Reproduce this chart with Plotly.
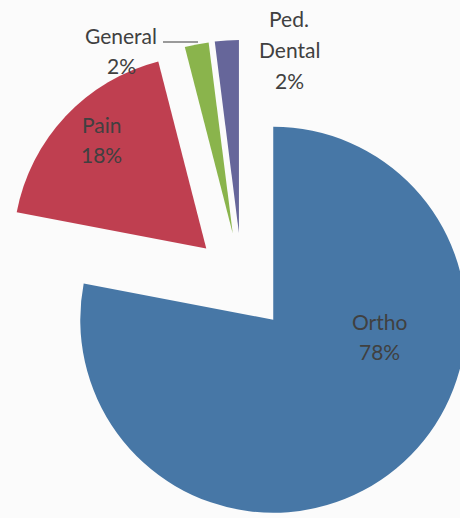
import plotly.graph_objects as go

# Appointment types and their share of visits
categories = ["Ortho", "Pain", "General", "Ped. Dental"]
values = [78, 18, 2, 2]
label_lines = [["Ortho"], ["Pain"], ["General"], ["Ped.", "Dental"]]

colors = ["#4777a6", "#bf3f50", "#8ab44c", "#66669a"]
text_color = "#404040"
bg = "#fbfbfb"

# Canvas is a bit larger than the window so the pie runs off the right/bottom edge
W, H = 484, 524
explode = 0.254          # every slice pulled out by the same amount
box_top = 40             # pixel top of the pie box
line_gap = 30.5          # pixel spacing between label lines


def px(x, y):
    """pixel position -> paper fractions"""
    return x / W, 1 - y / H


total = sum(values)
pct = [f"{round(v * 100 / total)}%" for v in values]

fig = go.Figure(
    go.Pie(
        labels=categories,
        values=values,
        sort=False,
        direction="clockwise",
        rotation=0,
        pull=[explode] * len(values),
        marker=dict(colors=colors, line=dict(width=0)),
        textinfo="none",
        hoverinfo="label+percent",
        showlegend=False,
        domain=dict(x=[0, 1], y=[0, 1 - box_top / H]),
    )
)

# Data labels (name + percentage); centre of the first line for each
label_pos = {
    "Ortho": (379, 321),
    "Pain": (101, 124),
    "General": (121, 35),
    "Ped. Dental": (289, 19),
}
for cat, lines, p in zip(categories, label_lines, pct):
    cx, cy = label_pos[cat]
    for i, t in enumerate(lines + [p]):
        x, y = px(cx, cy + i * line_gap)
        fig.add_annotation(
            x=x, y=y, xref="paper", yref="paper",
            text=t, showarrow=False,
            xanchor="center", yanchor="middle",
            font=dict(family="Lato", size=21, color=text_color),
        )

# Leader line from the "General" label to its slice
x0, y0 = px(163, 42)
x1, y1 = px(198, 42)
fig.add_shape(type="line", xref="paper", yref="paper",
              x0=x0, y0=y0, x1=x1, y1=y1,
              line=dict(color="#3a3a3a", width=1.2))

fig.update_layout(
    width=W, height=H,
    margin=dict(l=0, r=0, t=0, b=0),
    paper_bgcolor=bg, plot_bgcolor=bg,
)

fig.write_html(
    "out.html",
    config={"displayModeBar": False},
    post_script=(
        "document.body.style.margin='0';"
        "document.body.style.overflow='hidden';"
        "document.documentElement.style.overflow='hidden';"
        "document.body.style.background='" + bg + "';"
    ),
)
